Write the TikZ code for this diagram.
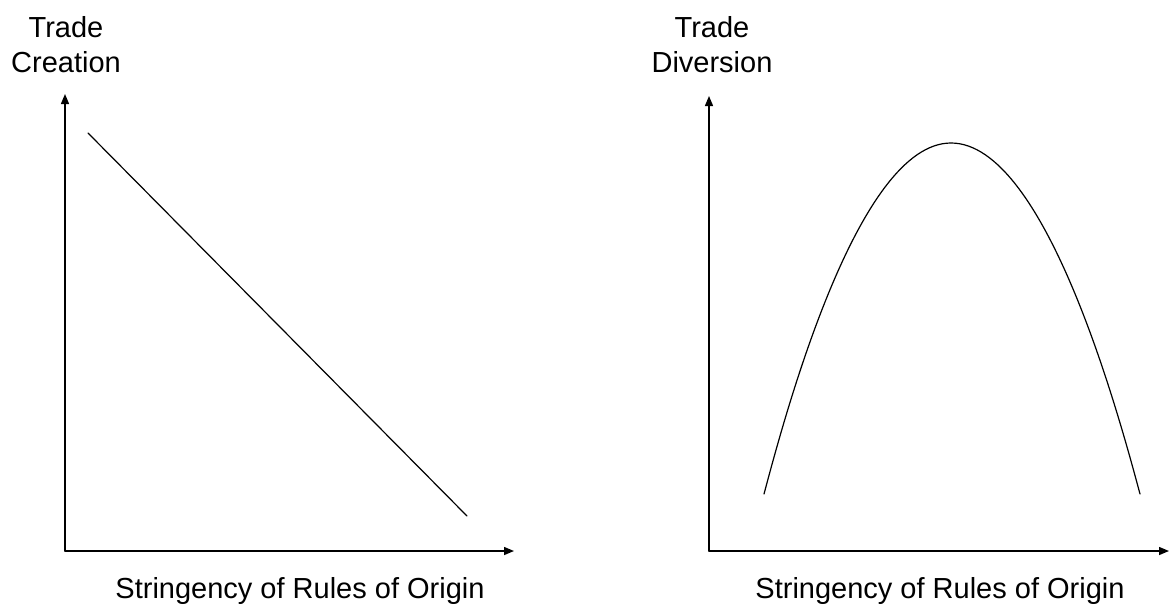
\documentclass[tikz,border=0pt]{standalone}
\usepackage{fontspec}
\setmainfont{Liberation Sans}
\usetikzlibrary{arrows.meta}
\begin{document}
\begin{tikzpicture}[x=1pt,y=-1pt,line join=round,line cap=round,
	axis/.style={line width=1.4pt,-{Triangle[length=10pt,width=8pt]}},
	curve/.style={line width=1.2pt},
	lbl/.style={font=\fontsize{29}{35}\selectfont,align=center,inner sep=0pt}]
	\useasboundingbox (0,0) rectangle (1169,608);
	% left panel
	\coordinate (O1)at(65,551);
	\coordinate (Y1)at(65,94);
	\coordinate (X1)at(514,551);
	\draw[axis] (O1)--(Y1);
	\draw[axis] (O1)--(X1);
	\coordinate (A)at(88,133);
	\coordinate (B)at(467,516);
	\draw[curve] (A)--(B);
	\node[lbl] (TC)at(66,45) {Trade\\Creation};
	\node[lbl] (S1)at(300,591) {Stringency of Rules of Origin};
	% right panel
	\coordinate (O2)at(709,551);
	\coordinate (Y2)at(709,96);
	\coordinate (X2)at(1169,551);
	\draw[axis] (O2)--(Y2);
	\draw[axis] (O2)--(X2);
	\coordinate (C)at(764,494);
	\coordinate (P)at(951,143);
	\coordinate (D)at(1140,494);
	\draw[curve] (C) parabola bend (P) (D);
	\node[lbl] (TD)at(712,45) {Trade\\Diversion};
	\node[lbl] (S2)at(940,591) {Stringency of Rules of Origin};
\end{tikzpicture}
\end{document}
